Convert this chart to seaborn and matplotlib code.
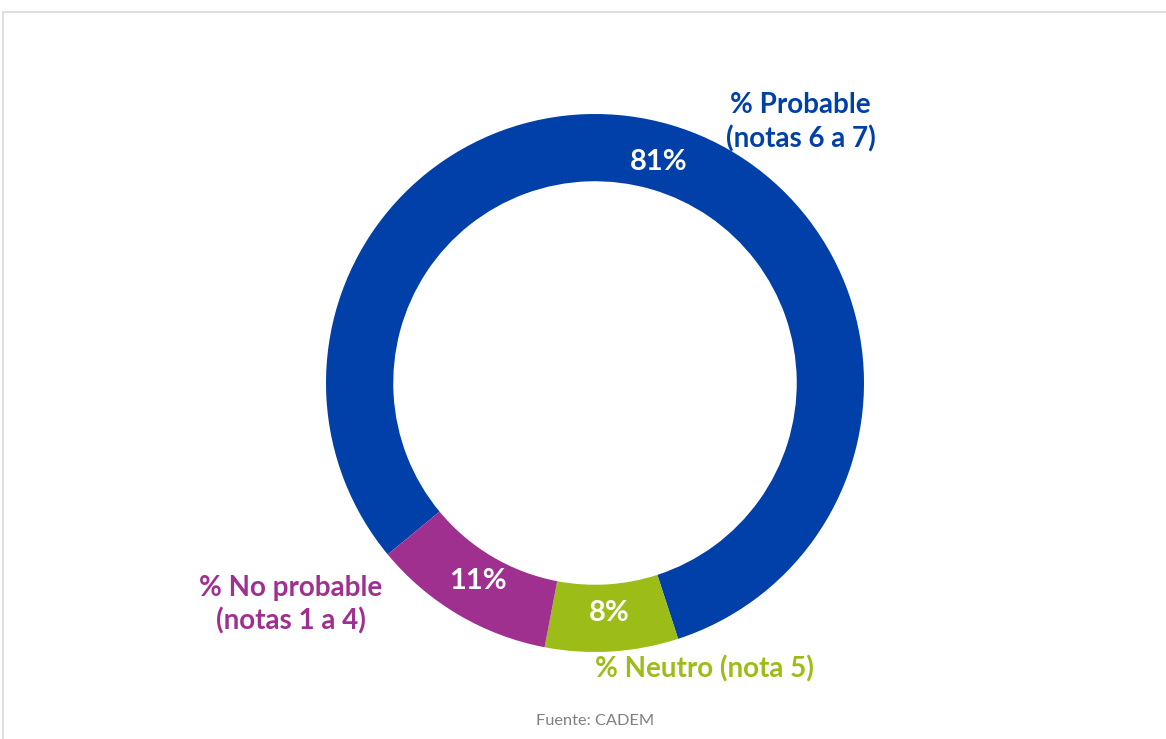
import matplotlib
matplotlib.use("Agg")
import matplotlib.pyplot as plt
import seaborn as sns
import numpy as np

# Survey shares (percent)
categories = ["% Probable\n(notas 6 a 7)", "% Neutro (nota 5)", "% No probable\n(notas 1 a 4)"]
values = [81, 8, 11]
colors = ["#0040A8", "#9CBD17", "#A0308F"]
source_text = "Fuente: CADEM"

sns.set_theme(style="white")
plt.rcParams["font.family"] = ["Lato", "DejaVu Sans"]

W, H = 1166, 739
fig = plt.figure(figsize=(W / 100, H / 100), dpi=100)
fig.patch.set_facecolor("white")

# thin frame around the chart area
fig.add_artist(plt.Rectangle((3 / W, -0.01), 1.2, 1 - 12 / H + 0.01,
                             transform=fig.transFigure, fill=False,
                             edgecolor="#D9D9D9", linewidth=1.2))

ax = fig.add_axes([0, 0, 1, 1])
cx, cy, R = 595, 383, 269  # ring centre and outer radius in pixels

palette = sns.color_palette(colors)
wedges, _, autotexts = ax.pie(
    values,
    colors=palette,
    startangle=-140.4,
    counterclock=False,
    radius=1.0,
    autopct=lambda p: f"{p:.0f}%",
    pctdistance=0.855,
    wedgeprops=dict(width=0.25, linewidth=0),
    textprops=dict(color="white", fontsize=21, fontweight="bold"),
)
ax.set_aspect("auto")
ax.set_xlim(-cx / R, (W - cx) / R)
ax.set_ylim(-(H - cy) / R, cy / R)
ax.axis("off")

# category labels outside the ring
label_pos = [(0.765, 0.968), (0.407, -1.063), (-1.13, -0.824)]
for text, col, (x, y) in zip(categories, colors, label_pos):
    ax.text(x, y, text, color=col, fontsize=20, fontweight="bold",
            ha="center", va="center", linespacing=1.32)

ax.text(0, -1.257, source_text, color="#808080", fontsize=11.8,
        ha="center", va="center")

fig.savefig("out.png", dpi=100, facecolor="white")
